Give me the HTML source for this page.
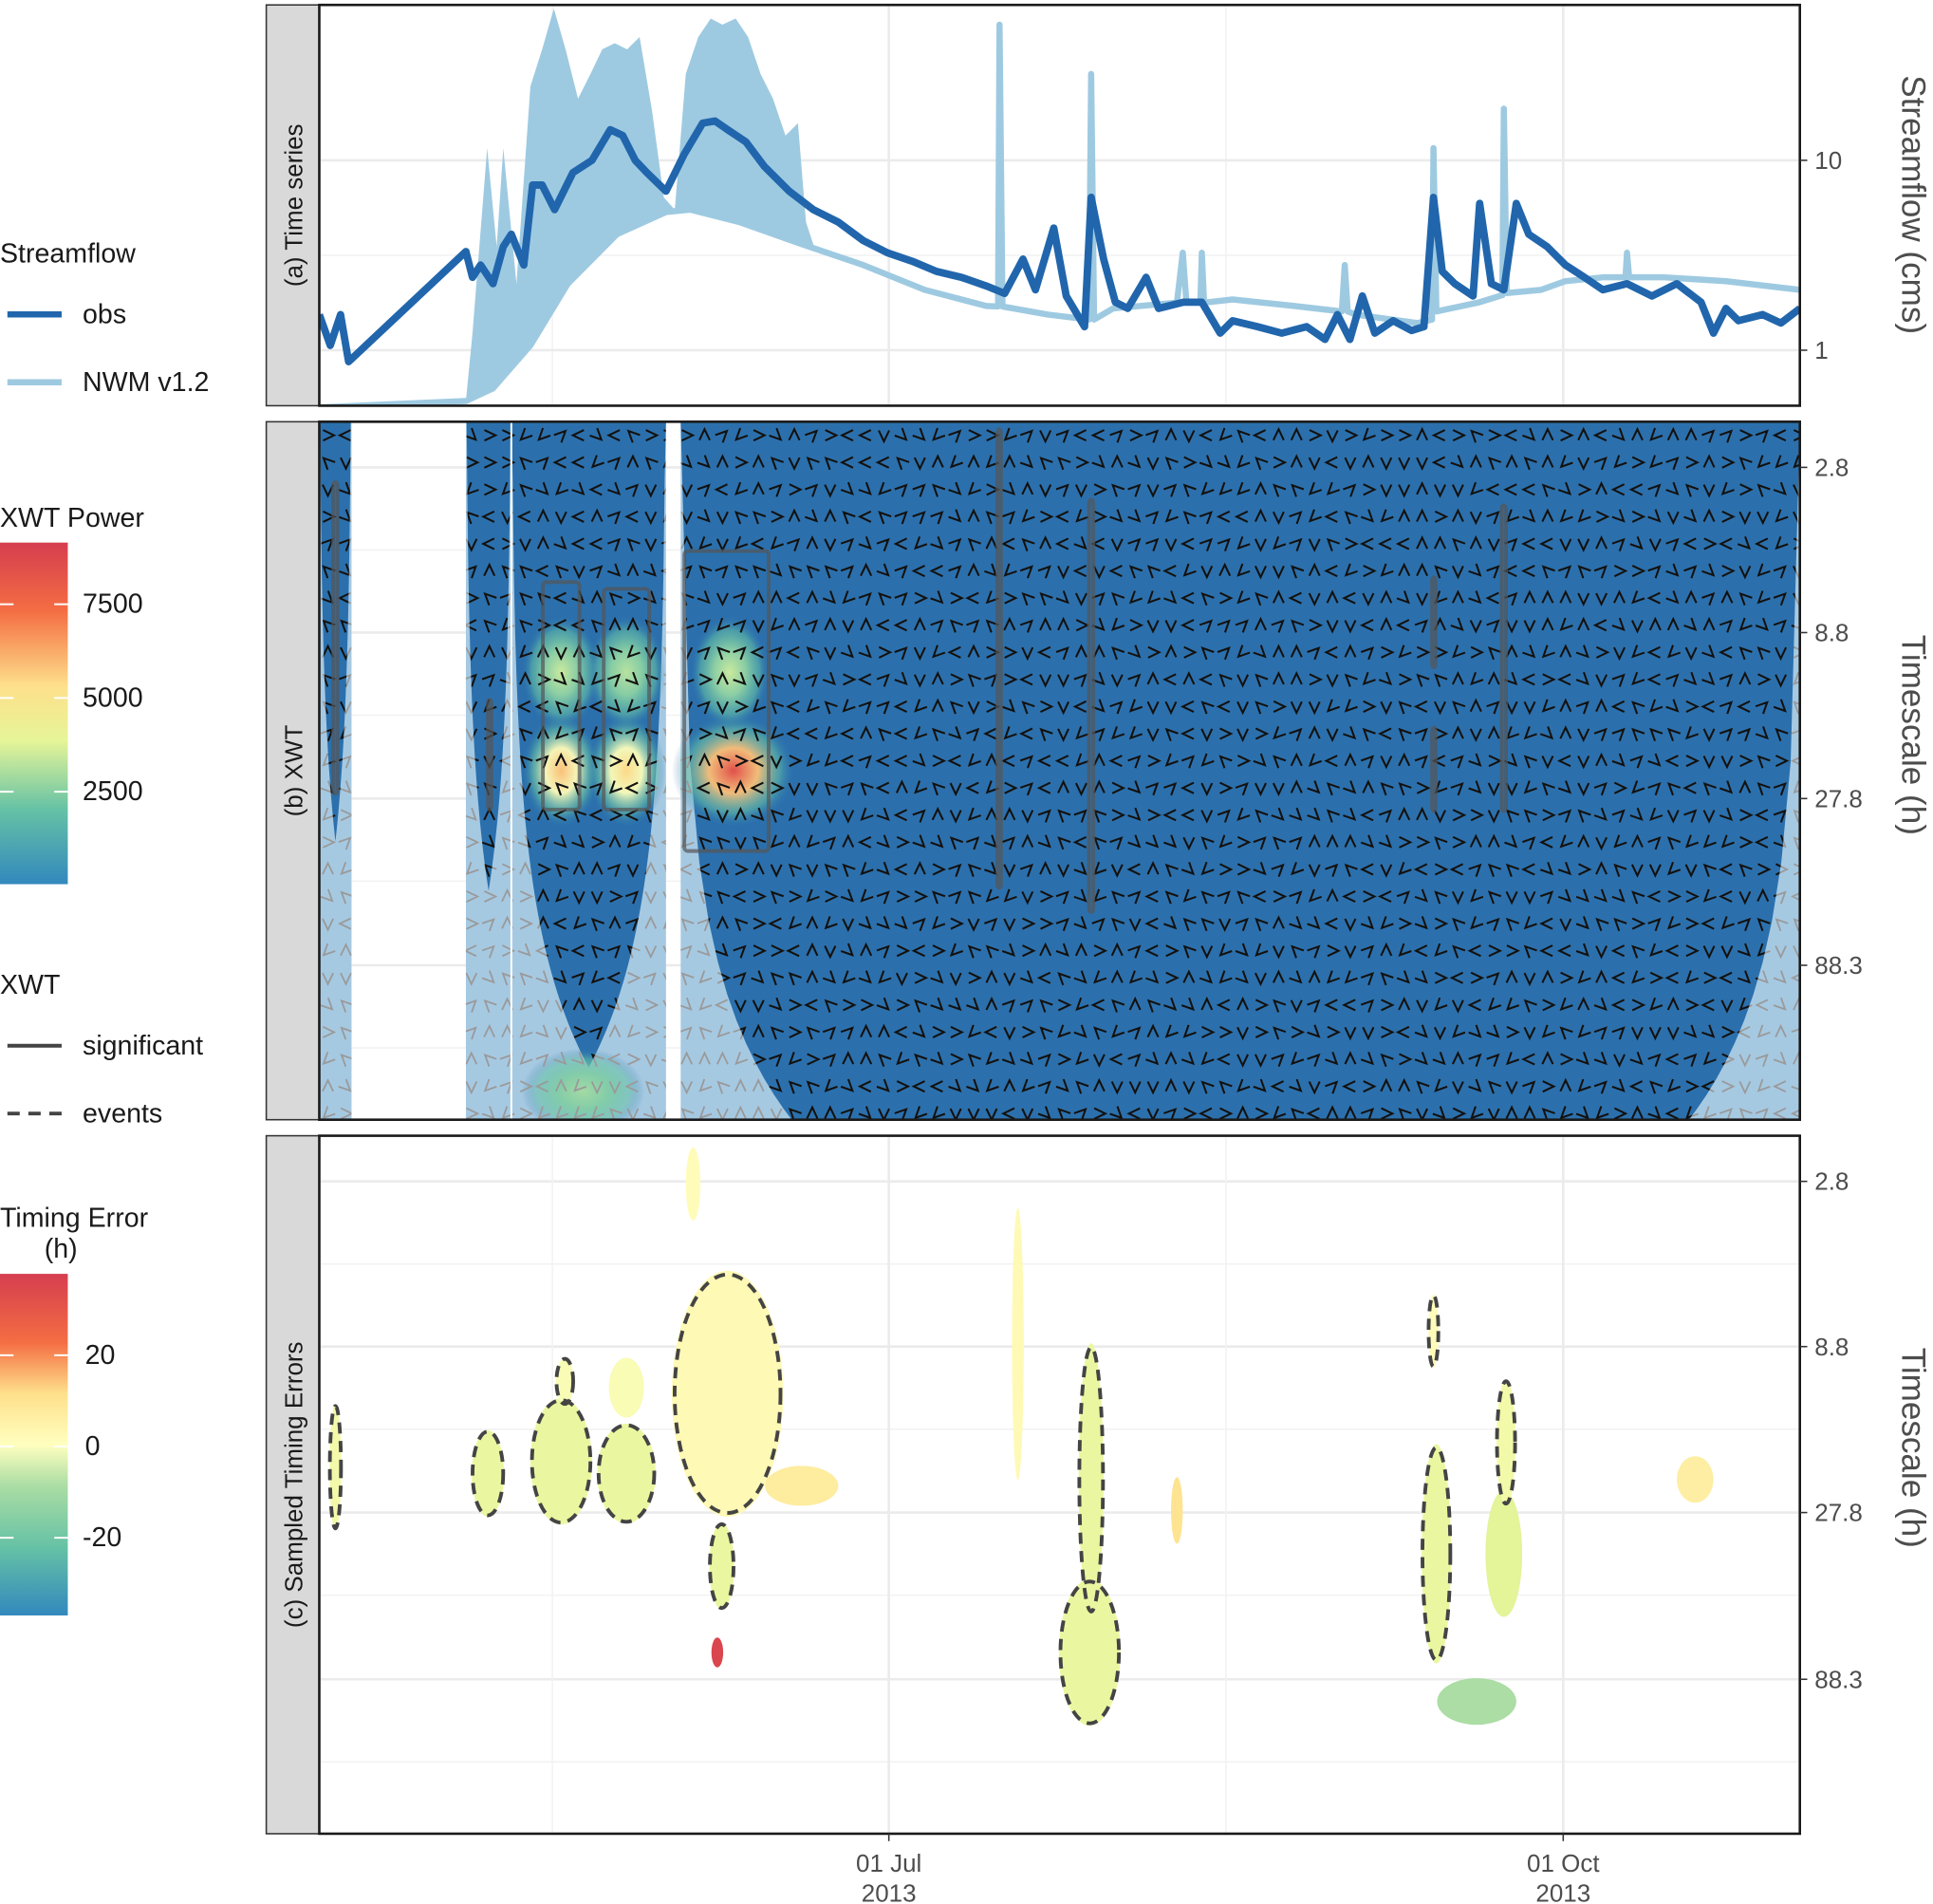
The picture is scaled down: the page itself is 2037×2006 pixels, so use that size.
<!DOCTYPE html>
<html><head><meta charset="utf-8"><style>
html,body{margin:0;padding:0;background:#fff}
svg{display:block;font-family:"Liberation Sans",sans-serif}
</style></head><body>
<svg id="c" width="2037" height="2006" viewBox="0 0 1568 1544" preserveAspectRatio="none" xmlns="http://www.w3.org/2000/svg">
<defs>
<clipPath id="clipA"><rect x="259" y="4" width="1201" height="325"/></clipPath>
<clipPath id="clipB"><rect x="259" y="342" width="1201" height="566"/></clipPath>
<clipPath id="clipC"><rect x="259" y="921" width="1201" height="566"/></clipPath>
<clipPath id="clipDark"></clipPath>
<clipPath id="clipLight"></clipPath>
</defs>
<g id="root"></g>
</svg>
<script>
// ---------- data ----------
const obsDays=[0,1.5,2.9,4.0,20.0,20.9,22.0,23.7,25.1,26.2,27.9,29.1,30.4,32.1,34.6,37.2,39.7,41.4,43.1,44.7,47.3,49.8,52.3,54.0,55.7,58.2,60.7,64.1,67.4,70.8,74.2,77.5,80.9,84.2,87.6,91.0,93.5,96.0,97.7,100.2,101.9,104.4,105.3,107.0,108.6,110.3,112.8,114.5,117.9,120.4,122.9,124.6,128.0,131.3,134.7,137.2,138.9,140.6,142.3,144.0,146.5,149.0,150.7,152.0,153.2,154.9,157.4,158.3,159.9,161.6,163.3,165.0,167.5,170.0,172.6,175.1,178.4,181.8,185.2,188.5,190.2,191.9,193.6,196.9,199.4,202.0];
const obsVals=[1.54,1.06,1.54,0.87,3.31,2.42,2.81,2.24,3.51,4.08,2.81,7.41,7.41,5.5,8.61,10,14.5,13.5,10,8.61,6.88,10.8,15.7,16.1,14.5,12.5,9.3,6.88,5.5,4.73,3.78,3.26,2.94,2.6,2.42,2.18,1.99,3.02,2.08,4.4,1.93,1.33,6.38,3.02,1.79,1.66,2.42,1.66,1.79,1.79,1.23,1.43,1.33,1.23,1.33,1.14,1.54,1.14,1.93,1.23,1.43,1.27,1.33,6.38,2.6,2.24,1.93,5.93,2.24,2.08,5.93,4.08,3.51,2.81,2.42,2.08,2.24,1.93,2.24,1.79,1.23,1.66,1.43,1.54,1.39,1.66];
const nwmDays=[0,20,23.7,28.8,33.9,40.6,47.3,50.6,57.3,65.8,74.2,82.6,91,92.6,92.8,93.2,99.4,105,105.3,105.7,108.3,117,117.8,118.3,120.2,120.4,120.7,124.6,133,139.5,139.9,140.3,141.4,149.8,151.8,152,152.4,158.3,161.4,161.6,162,166.7,170,175.1,178.2,178.4,178.7,183.5,191.9,202];
const nwmVals=[0.5,0.54,0.63,1.06,2.24,4.08,5.34,5.5,4.73,3.62,2.81,2.08,1.71,1.7,51.8,1.7,1.54,1.45,28.5,1.45,1.66,1.78,3.26,1.78,1.78,3.26,1.78,1.85,1.71,1.6,2.81,1.6,1.54,1.39,1.45,11.6,1.6,1.79,1.95,18.7,2.0,2.08,2.31,2.42,2.42,3.26,2.42,2.42,2.31,2.08];
const nwmPeakDays=[20,20.9,22.9,24.2,25.1,26.9,28.8,30.4,32.0,33.6,35.3,37,38.6,40.3,42,43.7,45.4,47,48.5,50,51.7,53.4,55,56.8,58.5,60.2,61.9,63.6,65.3,66.4,67.5];
const nwmPeakVals=[0.54,1.23,11.6,3.51,11.6,2.24,24.5,38.4,63,38.4,21.1,28.5,38.4,41.4,38.4,44.6,18.2,6.38,5.5,28.5,44.6,55.8,51.8,55.8,44.6,28.5,21.1,13.5,15.7,4.73,3.51];
const segStart=[0,20.0,26.2,49.3];
const segEnd=[4.4,26.2,47.3,202];
const coiFactor=17;
const powDays=[33.0,41.9,56.5,33.0,41.9,56.0,36.0];
const powPeriods=[22.9,22.9,22.9,11.6,11.6,11.6,200];
const powVals=[6300,6000,8400,3800,3600,3800,3300];
const sigD0=[1.9,23.0,92.5,105.0,151.8,151.8,161.3,30.5,38.8,49.8];
const sigD1=[2.5,23.4,92.9,105.6,152.2,152.2,161.9,35.5,45.0,61.3];
const sigP0=[3.1,14.0,2.15,3.5,6.0,17.0,3.64,6.2,6.5,5.0];
const sigP1=[26.9,30.0,51.6,61,11.2,30.3,30.3,30,30,40];
const teDays=[2.2,23.0,33.0,33.5,41.9,41.9,55.7,65.8,54.9,51.0,95.3,105.1,105.3,117.0,152.4,152.0,161.6,157.9,161.9,187.7,54.3];
const tePeriods=[20.3,21.2,19.5,11.2,21.2,11.7,12.2,23.1,40.3,2.85,8.65,73.3,22.1,27.4,37,7.9,37,103,17.1,22.1,73.3];
const teHalfDays=[0.8,2.2,4.2,1.2,4.0,2.4,7.6,5,1.7,1,0.8,4.2,1.7,0.8,2,0.7,2.5,5.4,1.3,2.5,0.8];
const teHalfDec=[0.19,0.13,0.19,0.07,0.15,0.09,0.37,0.06,0.13,0.11,0.41,0.22,0.41,0.1,0.33,0.11,0.19,0.07,0.19,0.07,0.045];
const teErrors=[-2,-3,-3,-1,-3,-1,2,7,-3,1,2,-3,-3,10,-3,1,-4,-9,-2,6,35];
const teEvents=[1,1,1,1,1,0,1,0,1,0,0,1,1,0,1,1,0,0,1,0,0];
const xTickDays=[77.7,169.7];
const xTickLabels=["01 Jul","01 Oct"];
const xMinorDays=[31.8,123.7];
const aTicks=[1,10];
const pTicks=[2.8,8.8,27.8,88.3];

// ---------- scales ----------
const X0=259, PX=5.946;
const xs=d=>X0+d*PX;
const ya=v=>284-154*Math.log10(v);
const yb=p=>379+269.4*Math.log10(p/2.8);
const yc=p=>958+269.4*Math.log10(p/2.8);
const NS="http://www.w3.org/2000/svg";
const root=document.getElementById('root');
function mk(tag,attrs,parent){const e=document.createElementNS(NS,tag);for(const k in attrs)e.setAttribute(k,attrs[k]);(parent||root).appendChild(e);return e;}
function spectral(t){
  const st=[[0,[50,136,189]],[0.2,[102,194,165]],[0.38,[171,221,164]],[0.45,[230,245,152]],[0.5,[255,255,191]],[0.65,[254,224,139]],[0.8,[244,109,67]],[1,[213,62,79]]];
  t=Math.max(0,Math.min(1,t));
  for(let i=1;i<st.length;i++){if(t<=st[i][0]){const a=st[i-1],b=st[i];const f=(t-a[0])/(b[0]-a[0]);const c=a[1].map((v,j)=>Math.round(v+(b[1][j]-v)*f));return `rgb(${c})`;}}
  return 'rgb(213,62,79)';
}
function powColor(v){return spectral(v/9100);}

// ---------- frames ----------
function frame(y,h,label,name){
  const s=mk('rect',{x:216,y:y,width:43,height:h,fill:'#d9d9d9',stroke:'#333','stroke-width':1.2});
  
  
  const t=mk('text',{x:0,y:0,transform:`translate(245,${y+h/2}) rotate(-90)`,'text-anchor':'middle','font-size':20,fill:'#1a1a1a'});
  t.textContent=label;
  
  
}
function vgrid(y,h){
  xTickDays.forEach(d=>mk('line',{x1:xs(d),x2:xs(d),y1:y,y2:y+h,stroke:'#ebebeb','stroke-width':2}));
  xMinorDays.forEach(d=>mk('line',{x1:xs(d),x2:xs(d),y1:y,y2:y+h,stroke:'#f2f2f2','stroke-width':1.2}));
}
// Panel A
frame(4,325,'(a)  Time series','panel-a');
vgrid(4,325);
aTicks.forEach(v=>mk('line',{x1:259,x2:1460,y1:ya(v),y2:ya(v),stroke:'#ebebeb','stroke-width':2}));
mk('line',{x1:259,x2:1460,y1:ya(Math.sqrt(10)),y2:ya(Math.sqrt(10)),stroke:'#f2f2f2','stroke-width':1.2});
mk('line',{x1:259,x2:1460,y1:ya(100),y2:ya(100),stroke:'#f2f2f2','stroke-width':1.2});
const gA=mk('g',{'clip-path':'url(#clipA)'});
let pts=nwmPeakDays.map((d,i)=>`${xs(d)},${ya(nwmPeakVals[i])}`);
for(let i=nwmDays.length-1;i>=0;i--){if(nwmDays[i]>=20&&nwmDays[i]<=67.5)pts.push(`${xs(nwmDays[i])},${ya(nwmVals[i])}`);}
const nf=mk('polygon',{points:pts.join(' '),fill:'#9ecae1'},gA);


const nl=mk('polyline',{points:nwmDays.map((d,i)=>`${xs(d)},${ya(nwmVals[i])}`).join(' '),fill:'none',stroke:'#9ecae1','stroke-width':5,'stroke-linejoin':'round'},gA);


const ol=mk('polyline',{points:obsDays.map((d,i)=>`${xs(d)},${ya(obsVals[i])}`).join(' '),fill:'none',stroke:'#2166ac','stroke-width':6,'stroke-linejoin':'round'},gA);


mk('rect',{x:259,y:4,width:1201,height:325,fill:'none',stroke:'#1a1a1a','stroke-width':2});
aTicks.forEach(v=>{mk('line',{x1:1460,x2:1466,y1:ya(v),y2:ya(v),stroke:'#333','stroke-width':1.2});
  const t=mk('text',{x:1472,y:ya(v)+7,'font-size':20,fill:'#4d4d4d'});t.textContent=String(v);
  
  });
let at=mk('text',{transform:'translate(1543,166) rotate(90)','text-anchor':'middle','font-size':27,fill:'#4d4d4d'});at.textContent='Streamflow (cms)';



// Panel B
frame(342,566,'(b)  XWT','panel-b');
pTicks.forEach(p=>mk('line',{x1:259,x2:1460,y1:yb(p),y2:yb(p),stroke:'#ebebeb','stroke-width':2}));
pTicks.forEach(p=>mk('line',{x1:259,x2:1460,y1:yb(p)+67,y2:yb(p)+67,stroke:'#f2f2f2','stroke-width':1.2}));
vgrid(342,566);
const gB=mk('g',{'clip-path':'url(#clipB)'});
const clipDark=document.getElementById('clipDark');
const clipLight=document.getElementById('clipLight');
const defs=document.querySelector('defs');
const gLightBg=mk('g',{},gB);
const gDarkBg=mk('g',{},gB);
segStart.forEach((a,i)=>{
  const b=segEnd[i];
  const r=mk('rect',{x:xs(a),y:342,width:xs(b)-xs(a),height:566,fill:'#a6c9e2'},gLightBg);
  
  
  mk('rect',{x:xs(a),y:342,width:xs(b)-xs(a),height:566},clipLight);
  const n=120;let pp=[];
  for(let k=0;k<=n;k++){const t=a+(b-a)*k/n;const d=Math.max(0.02,Math.min(t-a,b-t));const y=Math.min(912,Math.max(342,yb(coiFactor*d)));pp.push(`${xs(t)},${y}`);}
  pp.push(`${xs(b)},342`,`${xs(a)},342`);
  const poly=mk('polygon',{points:pp.join(' '),fill:'#2b70ad'},gDarkBg);
  
  
  mk('polygon',{points:pp.join(' ')},clipDark);
});
powDays.forEach((d,i)=>{
  const g=mk('radialGradient',{id:'hp'+i},defs);
  mk('stop',{offset:0,'stop-color':powColor(powVals[i])},g);
  mk('stop',{offset:0.4,'stop-color':powColor(powVals[i]*0.75),'stop-opacity':0.95},g);
  mk('stop',{offset:0.75,'stop-color':'#66c2a5','stop-opacity':0.55},g);
  mk('stop',{offset:1,'stop-color':'#2b70ad','stop-opacity':0},g);
  const big=powPeriods[i]>100;
  const e=mk('ellipse',{cx:xs(d),cy:big?885:yb(powPeriods[i]),rx:big?50:(i==2?50:32),ry:big?35:46,fill:`url(#hp${i})`},gB);
  
  
});
function hash(i,j){let h=(i*374761393+j*668265263)>>>0;h=((h^(h>>>13))*1274126177)>>>0;return (h^(h>>>16))>>>0;}
const gArrLight=mk('g',{'clip-path':'url(#clipLight)',stroke:'#9a9a9a','stroke-width':1.4,fill:'none'},gB);
const gArrDark=mk('g',{'clip-path':'url(#clipDark)',stroke:'#111','stroke-width':1.6,fill:'none'},gB);
const angles=[0,45,90,135,180,225,270,315];
let arrowD=[];
for(let r=0;r<26;r++){for(let c=0;c<83;c++){
  const x=266+c*14.55, y=353+r*22;
  const rad=angles[hash(c,r)%8]*Math.PI/180;
  const tx=x+Math.cos(rad)*5, ty=y+Math.sin(rad)*5;
  const b1=rad+2.7,b2=rad-2.7;
  arrowD.push(`M${(tx+Math.cos(b1)*10).toFixed(1)},${(ty+Math.sin(b1)*10).toFixed(1)}L${tx.toFixed(1)},${ty.toFixed(1)}L${(tx+Math.cos(b2)*10).toFixed(1)},${(ty+Math.sin(b2)*10).toFixed(1)}`);
}}
const arrLight=mk('path',{d:arrowD.join('')},gArrLight);


const arrDark=mk('path',{d:arrowD.join('')},gArrDark);


sigD0.forEach((d,i)=>{
  const x0=xs(d),x1=xs(sigD1[i]),y0=yb(sigP0[i]),y1=yb(sigP1[i]);
  const r=mk('rect',{x:x0,y:y0,width:Math.max(3,x1-x0),height:y1-y0,rx:3,fill:'none',stroke:'#555','stroke-width':3,opacity:0.7},gB);
  
  
});
mk('line',{x1:xs(26.2),x2:xs(26.2),y1:342,y2:908,stroke:'#fff','stroke-width':1.5},gB);
mk('rect',{x:259,y:342,width:1201,height:566,fill:'none',stroke:'#1a1a1a','stroke-width':2});
function pLabels(yf,name){pTicks.forEach(p=>{mk('line',{x1:1460,x2:1466,y1:yf(p),y2:yf(p),stroke:'#333','stroke-width':1.2});
  const t=mk('text',{x:1472,y:yf(p)+7,'font-size':20,fill:'#4d4d4d'});t.textContent=String(p);
  
  });}
pLabels(yb,'y-tick-label-b');
let bt=mk('text',{transform:'translate(1543,596) rotate(90)','text-anchor':'middle','font-size':27,fill:'#4d4d4d'});bt.textContent='Timescale (h)';



// Panel C
frame(921,566,'(c) Sampled Timing Errors','panel-c');
pTicks.forEach(p=>mk('line',{x1:259,x2:1460,y1:yc(p),y2:yc(p),stroke:'#ebebeb','stroke-width':2}));
pTicks.forEach(p=>mk('line',{x1:259,x2:1460,y1:yc(p)+67,y2:yc(p)+67,stroke:'#f2f2f2','stroke-width':1.2}));
vgrid(921,566);
const gC=mk('g',{'clip-path':'url(#clipC)'});
teDays.forEach((d,i)=>{
  const e=mk('ellipse',{cx:xs(d),cy:yc(tePeriods[i]),rx:teHalfDays[i]*PX,ry:teHalfDec[i]*269.4,fill:spectral(0.5+teErrors[i]/75)},gC);
  
  
});
teDays.forEach((d,i)=>{
  if(!teEvents[i])return;
  const e=mk('ellipse',{cx:xs(d),cy:yc(tePeriods[i]),rx:teHalfDays[i]*PX*0.95,ry:teHalfDec[i]*269.4*0.97,fill:'none',stroke:'#444','stroke-width':3,'stroke-dasharray':'9 6'},gC);
  
  
});
mk('rect',{x:259,y:921,width:1201,height:566,fill:'none',stroke:'#1a1a1a','stroke-width':2});
pLabels(yc,'y-tick-label-c');
let ct=mk('text',{transform:'translate(1543,1174) rotate(90)','text-anchor':'middle','font-size':27,fill:'#4d4d4d'});ct.textContent='Timescale (h)';


xTickDays.forEach((d,i)=>{
  mk('line',{x1:xs(d),x2:xs(d),y1:1487,y2:1493,stroke:'#333','stroke-width':1.2});
  const t=mk('text',{x:xs(d),y:1518,'text-anchor':'middle','font-size':20,fill:'#4d4d4d'});t.textContent=xTickLabels[i];
  
  
  const t2=mk('text',{x:xs(d),y:1542,'text-anchor':'middle','font-size':20,fill:'#4d4d4d'});t2.textContent='2013';
  
  
});
</script>
<div style="position:absolute;left:0;top:0;width:2037px;height:2006px;pointer-events:none">
<svg width="2037" height="2006" viewBox="0 0 1568 1544" preserveAspectRatio="none" style="position:absolute;left:0;top:0">
<defs>
<linearGradient id="gPowL" x1="0" y1="1" x2="0" y2="0">
<stop offset="0" stop-color="#3288bd"/><stop offset="0.22" stop-color="#66c2a5"/><stop offset="0.42" stop-color="#e6f598"/><stop offset="0.58" stop-color="#fee08b"/><stop offset="0.8" stop-color="#f46d43"/><stop offset="1" stop-color="#d53e4f"/>
</linearGradient>
<linearGradient id="gErrL" x1="0" y1="1" x2="0" y2="0">
<stop offset="0" stop-color="#3288bd"/><stop offset="0.2" stop-color="#66c2a5"/><stop offset="0.38" stop-color="#abdda4"/><stop offset="0.5" stop-color="#ffffbf"/><stop offset="0.65" stop-color="#fee08b"/><stop offset="0.8" stop-color="#f46d43"/><stop offset="1" stop-color="#d53e4f"/>
</linearGradient>
</defs>
<g font-family="Liberation Sans, sans-serif" font-size="22" fill="#1a1a1a">
<g>
<text x="0" y="213">Streamflow</text>
<line x1="6" x2="50" y1="255" y2="255" stroke="#2166ac" stroke-width="5"/>
<text x="67" y="262">obs</text>
<line x1="6" x2="50" y1="310" y2="310" stroke="#9ecae1" stroke-width="5"/>
<text x="67" y="317">NWM v1.2</text>
</g>
<g>
<text x="0" y="427">XWT Power</text>
<rect x="0" y="440" width="55" height="277" fill="url(#gPowL)"/>
<g stroke="#fff" stroke-width="1.5"><line x1="0" x2="11" y1="490" y2="490"/><line x1="44" x2="55" y1="490" y2="490"/><line x1="0" x2="11" y1="566" y2="566"/><line x1="44" x2="55" y1="566" y2="566"/><line x1="0" x2="11" y1="642" y2="642"/><line x1="44" x2="55" y1="642" y2="642"/></g>
<text x="67" y="497">7500</text><text x="67" y="573">5000</text><text x="67" y="649">2500</text>
</g>
<g>
<text x="0" y="806">XWT</text>
<line x1="6" x2="50" y1="848" y2="848" stroke="#444" stroke-width="3"/>
<text x="67" y="855">significant</text>
<line x1="6" x2="50" y1="903" y2="903" stroke="#444" stroke-width="3" stroke-dasharray="10 7"/>
<text x="67" y="910">events</text>
</g>
<g>
<text x="0" y="995">Timing Error</text>
<text x="36" y="1020">(h)</text>
<rect x="0" y="1033" width="55" height="277" fill="url(#gErrL)"/>
<g stroke="#fff" stroke-width="1.5"><line x1="0" x2="11" y1="1099" y2="1099"/><line x1="44" x2="55" y1="1099" y2="1099"/><line x1="0" x2="11" y1="1173" y2="1173"/><line x1="44" x2="55" y1="1173" y2="1173"/><line x1="0" x2="11" y1="1247" y2="1247"/><line x1="44" x2="55" y1="1247" y2="1247"/></g>
<text x="69" y="1106">20</text><text x="69" y="1180">0</text><text x="67" y="1254">-20</text>
</g>
</g>
</svg>
</div>
</body></html>
